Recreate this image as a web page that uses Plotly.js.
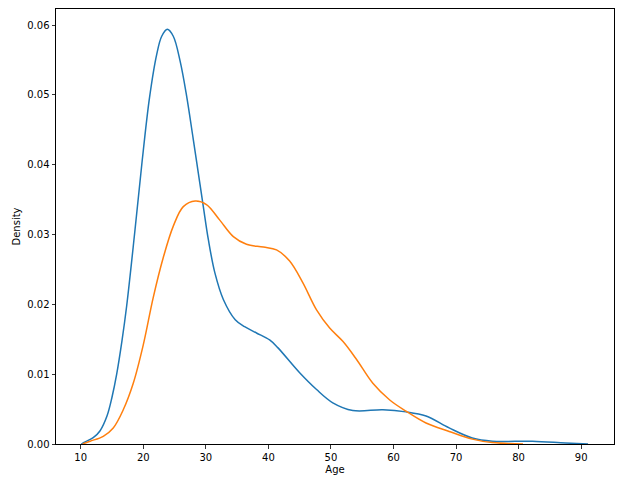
<!DOCTYPE html>
<html>
<head>
<meta charset="utf-8">
<script src="https://cdn.plot.ly/plotly-3.0.1.min.js"></script>
<style>html,body{margin:0;padding:0;background:#fff;}#chart{width:633px;height:493px;}</style>
</head>
<body>
<div id="chart"></div>
<script>
// Blue series (density curve 1)
var blueX = [10.1, 10.45, 12.0, 13.1, 14.2, 15.0, 15.75, 16.6, 17.35, 18.6, 19.76, 21.0, 22.15, 22.95, 23.85, 24.8, 25.9, 26.9, 28.0, 28.8, 29.6, 30.4, 31.45, 32.8, 34.7, 36.2, 38.1, 40.2, 41.5, 45.0, 47.7, 50.3, 53.5, 58.3, 62.0, 65.2, 68.9, 72.6, 75.8, 82.2, 87.5, 91.1];
var blueY = [0.0000, 0.0002, 0.0009, 0.0019, 0.0040, 0.0067, 0.0100, 0.0148, 0.0198, 0.0300, 0.0400, 0.0496, 0.0558, 0.0584, 0.0594, 0.0584, 0.0548, 0.0500, 0.0436, 0.0388, 0.0340, 0.0293, 0.0245, 0.0207, 0.0178, 0.0168, 0.0159, 0.0149, 0.0138, 0.0102, 0.0078, 0.0059, 0.0048, 0.0049, 0.0046, 0.0040, 0.0023, 0.00086, 0.0004, 0.0004, 0.00014, 0.0000];
// Orange series (density curve 2)
var orangeX = [10.3, 11.5, 13.6, 15.2, 16.8, 18.4, 20.0, 21.6, 23.2, 24.8, 26.4, 28.3, 30.1, 32.2, 34.4, 36.5, 39.2, 41.3, 43.4, 45.5, 47.7, 49.8, 51.9, 54.1, 56.7, 59.4, 62.0, 65.2, 68.9, 72.6, 75.8, 80.7];
var orangeY = [0.0000, 0.0004, 0.0011, 0.0023, 0.0049, 0.0087, 0.0142, 0.0210, 0.0267, 0.0312, 0.0340, 0.0348, 0.0343, 0.0321, 0.0297, 0.0286, 0.0282, 0.0278, 0.0262, 0.0231, 0.0192, 0.0166, 0.0147, 0.0121, 0.0087, 0.0063, 0.0047, 0.0030, 0.0018, 0.0007, 0.0002, 0.0000];
var xTicks = [10, 20, 30, 40, 50, 60, 70, 80, 90];
var yTicks = [0, 0.01, 0.02, 0.03, 0.04, 0.05, 0.06];

var traces = [
  {x: blueX, y: blueY, type: 'scatter', mode: 'lines', line: {color: '#1f77b4', width: 1.5, shape: 'spline'}, hoverinfo: 'none'},
  {x: orangeX, y: orangeY, type: 'scatter', mode: 'lines', line: {color: '#ff7f0e', width: 1.5, shape: 'spline'}, hoverinfo: 'none'}
];
var axisCommon = {
  showline: true, mirror: true, linecolor: '#000', linewidth: 1,
  ticks: 'outside', ticklen: 3.5, tickwidth: 0.8, tickcolor: '#000',
  showgrid: false, zeroline: false,
  tickfont: {family: 'DejaVu Sans', size: 10, color: '#000'}
};
var layout = {
  width: 633, height: 493,
  margin: {l: 56, r: 19, t: 9, b: 49},
  paper_bgcolor: '#fff', plot_bgcolor: '#fff',
  showlegend: false,
  font: {family: 'DejaVu Sans', size: 10, color: '#000'},
  xaxis: Object.assign({}, axisCommon, {
    range: [6.05, 95.25], tickvals: xTicks, ticktext: xTicks.map(String),
    title: {text: 'Age', font: {family: 'DejaVu Sans', size: 10, color: '#000'}, standoff: 4}
  }),
  yaxis: Object.assign({}, axisCommon, {
    range: [0, 0.0623], tickvals: yTicks, ticktext: yTicks.map(function(v){return v.toFixed(2);}),
    title: {text: 'Density', font: {family: 'DejaVu Sans', size: 10, color: '#000'}, standoff: 4}
  })
};
Plotly.newPlot('chart', traces, layout, {staticPlot: true, displayModeBar: false});
</script>
</body>
</html>
